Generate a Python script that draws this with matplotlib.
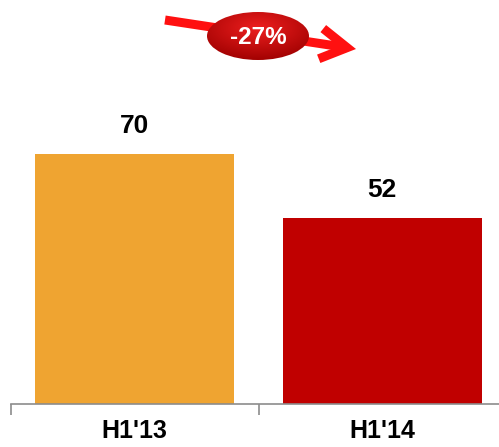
import numpy as np
import matplotlib
matplotlib.use("Agg")
import matplotlib.pyplot as plt
from matplotlib.patches import Ellipse

categories = ["H1'13", "H1'14"]
values = [70, 52]
colors = ["#EFA431", "#C00000"]
change_label = "-27%"

plt.rcParams["font.family"] = ["Liberation Sans", "DejaVu Sans"]

W, H = 499, 447
fig = plt.figure(figsize=(W / 100, H / 100), dpi=100)

# main bar axes: baseline at y=404 px, 70 maps to 250 px
ax = fig.add_axes([11 / W, 43 / H, 495 / W, 404 / H])
x = np.arange(len(categories))
ax.bar(x, values, width=0.804, color=colors)
ax.set_xlim(-0.5, 1.5)
ax.set_ylim(0, 404 / 250 * 70)
for xi, v in zip(x, values):
    ax.text(xi, v + 4.5, str(v), ha="center", va="bottom",
            fontsize=19, fontweight="bold")

for s in ["top", "right", "left"]:
    ax.spines[s].set_visible(False)
ax.spines["bottom"].set_color("#8c8c8c")
ax.spines["bottom"].set_linewidth(1.2)
ax.set_yticks([])
ax.set_xticks(x)
ax.set_xticklabels(categories, fontsize=18, fontweight="bold")
ax.tick_params(axis="x", which="major", length=0, pad=11)
ax.set_xticks([-0.5, 0.5], minor=True)
ax.tick_params(axis="x", which="minor", length=8, color="#8c8c8c", width=1.2)

# overlay for the change arrow and ellipse, pixel coordinates (y down)
ov = fig.add_axes([0, 0, 1, 1])
ov.set_xlim(0, W)
ov.set_ylim(H, 0)
ov.axis("off")
ov.annotate("", xy=(356, 49), xytext=(165, 20),
            arrowprops=dict(arrowstyle="->,head_length=1.9,head_width=1.1",
                            color="#FF1010", lw=6.5, shrinkA=0, shrinkB=0,
                            joinstyle="miter", capstyle="butt"))

cx, cy, ew, eh = 258, 36, 102, 48
ell = Ellipse((cx, cy), ew, eh, facecolor="none", edgecolor="none")
ov.add_patch(ell)
gy, gx = np.mgrid[-1:1:200j, -1:1:200j]
r = np.sqrt(gx ** 2 + (gy + 0.35) ** 2)
grad = np.clip(1 - r * 0.7, 0, 1)
base = np.array([0.62, 0.0, 0.0])
top = np.array([0.93, 0.12, 0.12])
img = base + (top - base) * grad[..., None]
im = ov.imshow(img, extent=(cx - ew / 2, cx + ew / 2, cy + eh / 2, cy - eh / 2),
               interpolation="bilinear", zorder=3)
im.set_clip_path(ell)
ov.set_xlim(0, W)
ov.set_ylim(H, 0)
ov.text(cx, cy + 1, change_label, ha="center", va="center", color="white",
        fontsize=17.5, fontweight="bold", zorder=4)

fig.savefig("out.png", dpi=100)
